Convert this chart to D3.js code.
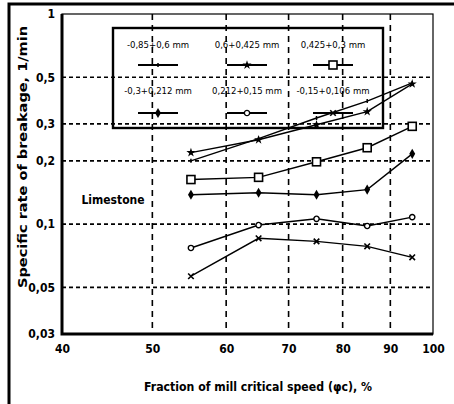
<!DOCTYPE html>
<html>
<head>
<meta charset="utf-8">
<script src="https://cdn.jsdelivr.net/npm/d3@7"></script>
<style>
  html, body { margin: 0; padding: 0; background: #fff; }
  svg text { font-family: "Liberation Sans Narrow", "DejaVu Sans Condensed", "Liberation Sans", sans-serif; fill: #000; }
</style>
</head>
<body>
<svg id="chart" width="454" height="404"></svg>
<script>
// mill speed, % of critical
const speeds = [55, 65, 75, 85, 95];
const xTicks = [40, 50, 60, 70, 80, 90, 100];
const yTicks = [1, 0.5, 0.3, 0.2, 0.1, 0.05, 0.03];
const yTickLabels = ["1", "0,5", "0,3", "0,2", "0,1", "0,05", "0,03"];
const xGrid = [50, 60, 70, 80, 90];
const yGrid = [0.5, 0.3, 0.2, 0.1, 0.05];

const sizeNames = ["-0,85+0,6 mm", "0,6+0,425 mm", "0,425+0,3 mm",
                   "-0,3+0,212 mm", "0,212+0,15 mm", "-0,15+0,106 mm"];
const rate_085 = [0.2, 0.255, 0.32, 0.385, 0.47];
const rate_06 = [0.219, 0.252, 0.297, 0.343, 0.465];
const rate_0425 = [0.163, 0.167, 0.198, 0.231, 0.292];
const rate_03 = [0.138, 0.141, 0.138, 0.146, 0.216];
const rate_0212 = [0.077, 0.099, 0.106, 0.098, 0.108];
const rate_015 = [0.0565, 0.0856, 0.0828, 0.0784, 0.0695];
const allRates = [rate_085, rate_06, rate_0425, rate_03, rate_0212, rate_015];
const markers = ["tick", "star", "square", "diamond", "odiamond", "cross"];

const svg = d3.select("#chart");

// outer frame, top and left only
svg.append("path").attr("d", "M9,404 V4 H454").attr("fill", "none")
  .attr("stroke", "#000").attr("stroke-width", 3);

const x = d3.scaleLog().domain([40, 100]).range([62, 433]);
const y = d3.scaleLog().domain([0.03, 1]).range([334, 14]);

// grid
svg.append("g").selectAll("line").data(xGrid).join("line")
  .attr("x1", d => x(d)).attr("x2", d => x(d))
  .attr("y1", y(1)).attr("y2", y(0.03))
  .attr("stroke", "#000").attr("stroke-width", 1.6)
  .attr("stroke-dasharray", "6,5");
svg.append("g").selectAll("line").data(yGrid).join("line")
  .attr("x1", x(40)).attr("x2", x(100))
  .attr("y1", d => y(d)).attr("y2", d => y(d))
  .attr("stroke", "#000").attr("stroke-width", 1.6)
  .attr("stroke-dasharray", "4,3");

// plot frame
svg.append("rect").attr("x", x(40)).attr("y", y(1))
  .attr("width", x(100) - x(40)).attr("height", y(0.03) - y(1))
  .attr("fill", "none").attr("stroke", "#000").attr("stroke-width", 1.2);
svg.append("path").attr("d", `M${x(40)},${y(1)} V${y(0.03)} H${x(100)}`)
  .attr("fill", "none").attr("stroke", "#000").attr("stroke-width", 3);

// axes
const xAxis = svg.append("g").attr("transform", `translate(0,${y(0.03)})`)
  .call(d3.axisBottom(x).tickValues(xTicks).tickFormat(d3.format("d")).tickSize(0).tickPadding(10));
xAxis.select(".domain").remove();
xAxis.selectAll("text").attr("font-size", 12).attr("font-weight", "bold");

const yAxis = svg.append("g").attr("transform", `translate(${x(40)},0)`)
  .call(d3.axisLeft(y).tickValues(yTicks).tickFormat((d, i) => yTickLabels[i]).tickSize(0).tickPadding(7));
yAxis.select(".domain").remove();
yAxis.selectAll("text").attr("font-size", 12).attr("font-weight", "bold");

svg.append("text").attr("x", 258).attr("y", 391).attr("text-anchor", "middle")
  .attr("font-size", 12).attr("font-weight", "bold")
  .attr("textLength", 228).attr("lengthAdjust", "spacingAndGlyphs")
  .text("Fraction of mill critical speed (φc), %");
svg.append("text").attr("transform", "translate(27,157) rotate(-90)")
  .attr("text-anchor", "middle").attr("font-size", 12.5).attr("font-weight", "bold")
  .attr("textLength", 262).attr("lengthAdjust", "spacingAndGlyphs")
  .text("Specific rate of breakage, 1/min");
svg.append("text").attr("x", 113).attr("y", 204).attr("text-anchor", "middle")
  .attr("font-size", 12).attr("font-weight", "bold").text("Limestone");

function drawMarker(g, type, cx, cy) {
  const m = g.append("g").attr("transform", `translate(${cx},${cy})`);
  if (type === "tick") {
    m.append("line").attr("y1", -2).attr("y2", 2).attr("stroke", "#000").attr("stroke-width", 1.5);
  } else if (type === "star") {
    m.append("path").attr("d", d3.symbol(d3.symbolStar, 26)()).attr("fill", "#000");
  } else if (type === "square") {
    m.append("rect").attr("x", -4).attr("y", -4).attr("width", 8).attr("height", 8)
      .attr("fill", "#fff").attr("stroke", "#000").attr("stroke-width", 1.6);
  } else if (type === "diamond") {
    m.append("path").attr("d", d3.symbol(d3.symbolDiamond, 30)()).attr("fill", "#000");
  } else if (type === "odiamond") {
    m.append("path").attr("d", d3.symbol(d3.symbolCircle, 22)())
      .attr("fill", "#fff").attr("stroke", "#000").attr("stroke-width", 1.4);
  } else if (type === "cross") {
    m.append("path").attr("d", d3.symbol(d3.symbolTimes, 22)())
      .attr("fill", "none").attr("stroke", "#000").attr("stroke-width", 1.6);
  }
}

const line = d3.line().x((d, i) => x(speeds[i])).y(d => y(d));
allRates.forEach((rates, k) => {
  const g = svg.append("g");
  g.append("path").attr("d", line(rates)).attr("fill", "none")
    .attr("stroke", "#000").attr("stroke-width", 1.4);
  rates.forEach((v, i) => drawMarker(g, markers[k], x(speeds[i]), y(v)));
});

// legend
const legend = svg.append("g");
legend.append("rect").attr("x", 113).attr("y", 28).attr("width", 270).attr("height", 100)
  .attr("fill", "none").attr("stroke", "#000").attr("stroke-width", 2.4);
const legendCols = [158, 247, 333];
const legendRows = [[48, 65], [94, 113]];
sizeNames.forEach((name, k) => {
  const cx = legendCols[k % 3];
  const row = legendRows[Math.floor(k / 3)];
  legend.append("text").attr("x", cx).attr("y", row[0]).attr("text-anchor", "middle")
    .attr("font-size", 9.5).attr("font-weight", "normal").text(name);
  legend.append("line").attr("x1", cx - 20).attr("x2", cx + 20).attr("y1", row[1]).attr("y2", row[1])
    .attr("stroke", "#000").attr("stroke-width", 1.8);
  drawMarker(legend, markers[k], cx, row[1]);
});
</script>
</body>
</html>
